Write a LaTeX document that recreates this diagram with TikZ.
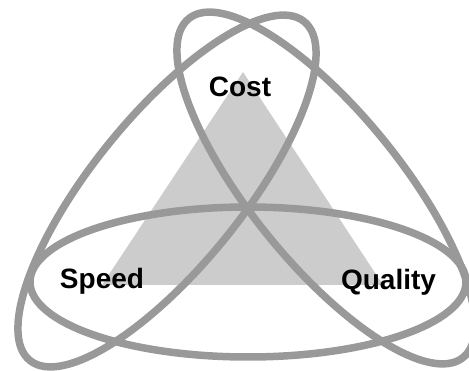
\documentclass[tikz,border=0pt]{standalone}
\usepackage{fontspec}
\setmainfont{Liberation Sans}
\usetikzlibrary{calc}
\definecolor{ringgray}{RGB}{153,153,153}
\definecolor{trigray}{RGB}{204,204,204}
\def\rx{218}
\def\ry{75}
\def\tilt{51}

\begin{document}
\begin{tikzpicture}[x=1pt, y=-1pt, line cap = round, line join = round]
		\useasboundingbox (0,0) rectangle (469,371);
		% Coordinates
		\coordinate (top) at (243,72);
		\coordinate (left) at (102,285);
		\coordinate (right) at (383,285);
		\coordinate (ringH) at (248,282);
		\coordinate (ringL) at (167,191);
		\coordinate (ringR) at (326,188);
		
		% Triangle
		\fill[trigray] (top) -- (left) -- (right) -- cycle;
		
		% Rings
		\tikzset{ring/.style = {draw = ringgray, line width = 7.5pt}}
		\draw[ring] (ringH) ellipse [x radius = \rx, y radius = \ry];
		\draw[ring, rotate around = {\tilt:(ringL)}] (ringL) ellipse [x radius = \rx, y radius = \ry];
		\draw[ring, rotate around = {-\tilt:(ringR)}] (ringR) ellipse [x radius = \rx, y radius = \ry];
		
		% Labels
		\tikzset{label text/.style = {font = \fontsize{28}{30}\selectfont\bfseries, inner sep = 0pt, anchor = base}}
		\node[label text] (cost) at (240,97) {Cost}; % top
		\node[label text] (speed) at (102,289) {Speed}; % left
		\node[label text] (quality) at (388.5,290) {Quality}; % right
	\end{tikzpicture}
\end{document}
